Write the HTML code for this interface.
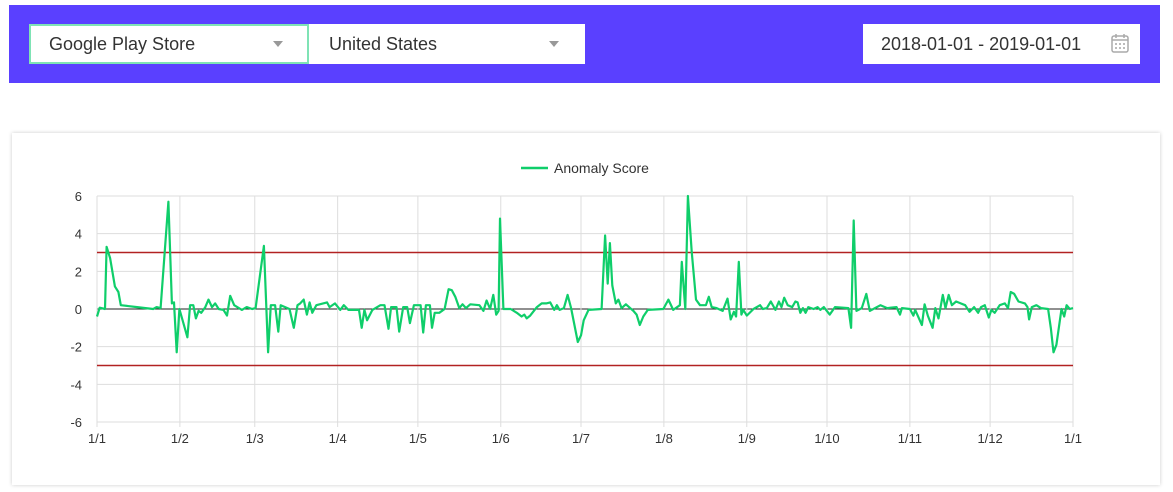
<!DOCTYPE html>
<html><head><meta charset="utf-8"><style>
body{margin:0;width:1173px;height:492px;background:#fff;font-family:"Liberation Sans",sans-serif;overflow:hidden;position:relative}
.bar{position:absolute;left:9px;top:5px;width:1151px;height:78px;background:#5a40ff}
.dd{position:absolute;top:24px;height:40px;background:#fff;box-sizing:border-box;font-size:18px;color:#333;line-height:40px;padding-left:20px}
.arrow{position:absolute;top:17px;width:0;height:0;border-left:5px solid transparent;border-right:5px solid transparent;border-top:6px solid #999}
.card{position:absolute;left:12px;top:133px;width:1148px;height:352px;background:#fff;box-shadow:0 0 4px rgba(0,0,0,.2)}
</style></head><body>
<div class="bar"></div>
<div class="dd" style="left:29px;width:280px;border:2px solid #7fe3b5;line-height:36px;padding-left:18px">Google Play Store<span class="arrow" style="left:242px;top:15px"></span></div>
<div class="dd" style="left:309px;width:276px">United States<span class="arrow" style="left:240px"></span></div>
<div class="dd" style="left:863px;width:277px;padding-left:18px">2018-01-01 - 2019-01-01
<svg style="position:absolute;left:248px;top:9px" width="18" height="20" viewBox="0 0 18 20"><rect x="1" y="3" width="16" height="16" rx="2" fill="none" stroke="#aaa" stroke-width="1.5"/><line x1="1" y1="7" x2="17" y2="7" stroke="#aaa" stroke-width="1.5"/><line x1="5" y1="1" x2="5" y2="5" stroke="#aaa" stroke-width="1.5"/><line x1="13" y1="1" x2="13" y2="5" stroke="#aaa" stroke-width="1.5"/><g fill="#bbb"><rect x="4" y="10" width="2" height="2"/><rect x="8" y="10" width="2" height="2"/><rect x="12" y="10" width="2" height="2"/><rect x="4" y="14" width="2" height="2"/><rect x="8" y="14" width="2" height="2"/><rect x="12" y="14" width="2" height="2"/></g></svg></div>
<div class="card"></div>
<svg id="chart" style="position:absolute;left:0;top:0" width="1173" height="492"></svg>
<script>
const monthLabels=["1/1","1/2","1/3","1/4","1/5","1/6","1/7","1/8","1/9","1/10","1/11","1/12","1/1"];
const monthDays=[0,31,59,90,120,151,181,212,243,273,304,334,365];
const yTicks=[-6,-4,-2,0,2,4,6];
const thresholds=[3,-3];
const days=[0,1,3,3.6,4.9,6.7,8,8.9,15,21,22.3,23.8,26.7,28,28.8,29.8,30.8,33.8,34.8,36,37,38,39,40.5,41.7,43,44.2,45.5,47.3,48.6,49.8,51.3,54.2,56,58,59.3,62.4,64,65,66.6,67.8,68.7,72,73.6,75,76,77.3,78.5,79.5,80.5,82,86,87,89,91,92.3,94,98,99,100,101,103,106,107.5,109,110,112,113,114.5,116,117,118.5,121,122,123,124.5,125.3,126.3,128,130,131.5,132.7,134,135.5,136.7,138,139.6,143,144.5,145.7,147,148.2,149.3,150.2,150.7,152,154.7,157,158.8,159.8,160.7,162,164.5,166.3,168,169.5,171,172,173,174.6,176,177.3,179.8,181,182,183.8,188.7,190,191,191.8,192.7,194,195,196.2,197.8,200.6,201.8,203,204.3,206,211.8,213.7,215.5,218,218.7,220,221,222.4,224,225.5,227.7,228.8,229.9,231.7,234,235.8,237,238.2,239,240,241,241.7,243,245.5,248,249,250.5,252,253.7,255,256,257,258.3,260,261.2,262,263,264,265,266,268,269.5,270.5,271.8,274,276,281,282,283,284,286,287.7,289,293,295.5,299,300.3,301,304,305.3,306,308.5,309.5,310.7,312.5,313.5,314.7,316.3,317.3,318.5,319.7,321.3,323,324.7,326.3,328,329.5,330.6,332,333.5,334.5,335.7,337.6,339.5,340.7,341.7,343,344.6,347,348,348.6,349.6,351.3,353,355.7,356.7,357.7,358.8,360.7,361.7,362.6,363.8,365];
const scores=[-0.4,0.07,0,3.3,2.7,1.2,0.9,0.2,0.1,0,0.1,0.05,5.7,0.3,0.35,-2.3,0,-1.5,0.2,0.2,-0.5,-0.1,-0.2,0.1,0.5,0.1,0.3,0,-0.05,-0.35,0.7,0.2,-0.05,0.1,0,0.05,3.35,-2.3,0.2,0.2,-1.2,0.2,0,-1.0,0.2,0.3,0.5,-0.3,0.35,-0.2,0.2,0.35,0.1,0.3,-0.05,0.2,-0.05,-0.05,-1.0,-0.05,-0.6,-0.05,0.2,0.2,-1.05,0.1,0.1,-1.2,0.1,0.1,-0.75,0.2,0.2,-1.25,0.2,0.2,-1.0,-0.2,-0.2,0,1.05,1.0,0.65,0.05,0.25,0.05,0.25,0.2,-0.1,0.45,0,0.75,-0.3,-0.1,4.8,0,0,-0.2,-0.4,-0.3,-0.5,-0.35,0.1,0.3,0.3,0.35,-0.05,0.2,-0.05,0.05,0.75,0.05,-1.75,-1.4,-0.6,-0.05,0,3.9,1.35,3.5,1.25,0.3,0.5,0.05,0.25,-0.1,-0.3,-0.85,-0.4,-0.05,0,0.5,-0.05,0.2,2.5,0,6.0,3.05,0.5,0.2,0.2,0.65,0.1,0.05,-0.1,0.55,-0.55,-0.15,-0.4,2.5,-0.3,-0.05,-0.35,0,0.2,0,0.05,0.4,-0.05,0.4,0.1,0.6,0.2,0.1,0.4,0.35,-0.2,0.05,-0.2,0.1,0,0.1,-0.05,0.1,-0.3,0.1,0.05,-1.0,4.7,-0.1,0.05,0.8,-0.1,0.2,0.05,0.1,-0.3,0.05,0,-0.35,-0.05,-0.85,0.25,-0.35,-1.0,0.05,-0.5,0.75,0.05,0.75,0.2,0.4,0.3,0.2,-0.15,0.1,-0.2,0.1,0.2,-0.45,-0.05,-0.2,0.2,0.3,0.05,0.9,0.8,0.4,0.3,0.1,-0.55,0.1,0.2,0.05,0,-1.0,-2.3,-1.9,0,-0.4,0.2,0,0.05];
const NS="http://www.w3.org/2000/svg";
const svg=document.getElementById('chart');
const X0=97,X1=1073,Y0=422,Y1=196;
const xS=d=>X0+d/365*(X1-X0);
const yS=v=>Y0-(v+6)/12*(Y0-Y1);
function mk(t,a){const e=document.createElementNS(NS,t);for(const k in a)e.setAttribute(k,a[k]);svg.appendChild(e);return e;}
yTicks.forEach(v=>{
 const l=mk('line',{x1:X0,x2:X1,y1:yS(v),y2:yS(v),stroke:v===0?'#222':'#ddd','stroke-width':1});
 
 
 const t=mk('text',{x:82,y:yS(v)+5,'text-anchor':'end','font-size':13,fill:'#333'});
 t.textContent=v;
 
 
});
monthDays.forEach((d,i)=>{
 const l=mk('line',{x1:xS(d),x2:xS(d),y1:Y1,y2:Y0+5,stroke:'#ddd','stroke-width':1});
 
 
 const t=mk('text',{x:xS(d),y:443,'text-anchor':'middle','font-size':13,fill:'#333'});
 t.textContent=monthLabels[i];
 
 
});
thresholds.forEach(v=>{
 const l=mk('line',{x1:X0,x2:X1,y1:yS(v),y2:yS(v),stroke:'#b22222','stroke-width':1.5});
 
 
});
const p=mk('polyline',{points:days.map((d,i)=>xS(d).toFixed(1)+','+yS(scores[i]).toFixed(1)).join(' '),fill:'none',stroke:'#0fce6a','stroke-width':2.2,'stroke-linejoin':'round'});


const ll=mk('line',{x1:521,x2:548,y1:168,y2:168,stroke:'#0fce6a','stroke-width':2.5});


const lt=mk('text',{x:554,y:173,'font-size':14,fill:'#333'});
lt.textContent='Anomaly Score';


</script>
</body></html>
